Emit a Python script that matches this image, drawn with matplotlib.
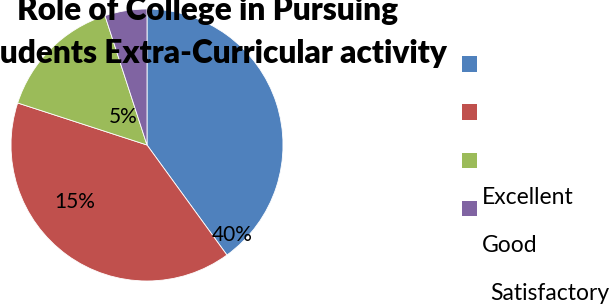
import matplotlib
matplotlib.use('Agg')
import matplotlib.pyplot as plt
from matplotlib.patches import Rectangle

# ── Datos ─────────────────────────────────────────────────────────────────────
values = [40, 40, 15, 5]
colors = ['#4F81BD', '#C0504D', '#9BBB59', '#8064A2']
pct_labels = ['40%', '15%', '5%']
legend_labels = ['Excellent', 'Good', 'Satisfactory']
title = 'Role of College in Pursuing\nStudents Extra-Curricular activity'

plt.rcParams['font.family'] = ['Lato', 'DejaVu Sans']

W, H = 610, 305
fig = plt.figure(figsize=(W / 100, H / 100), dpi=100)
fig.patch.set_facecolor('white')

# pie axes: centre (147,145) px, radius 136 px
cx, cy, r = 147, 145, 136
ax = fig.add_axes([(cx - r) / W, (H - cy - r) / H, 2 * r / W, 2 * r / H])
ax.pie(values, colors=colors, startangle=90, counterclock=False,
       radius=1.0, wedgeprops=dict(edgecolor='white', linewidth=0.6))
ax.set_xlim(-1, 1)
ax.set_ylim(-1, 1)
ax.set_aspect('equal')
ax.axis('off')

# etiquetas de porcentaje (posiciones tal como aparecen en el original)
lab_pos = [(232, 235), (75, 202), (123, 117)]
for txt, (px, py) in zip(pct_labels, lab_pos):
    ax.text((px - cx) / r, (cy - py) / r, txt, ha='center', va='center',
            fontsize=15, color='black')

# título (recortado arriba y a la izquierda como en la referencia)
fig.text(208 / W, 1 - 63 / H, title, ha='center', va='baseline',
         fontsize=22.8, fontweight='heavy', linespacing=1.58,
         multialignment='center')

# leyenda: cuadros de color
for i, c in enumerate(colors):
    y = 64 + 48 * i
    fig.patches.append(Rectangle((462 / W, 1 - (y + 7.5) / H), 15 / W, 15 / H,
                                 transform=fig.transFigure, facecolor=c,
                                 edgecolor='none', figure=fig))

leg_pos = [(482, 198), (482, 245), (490, 293)]
for txt, (px, py) in zip(legend_labels, leg_pos):
    fig.text(px / W, 1 - py / H, txt, ha='left', va='center',
             fontsize=16.5, color='black')

fig.savefig('out.png', dpi=100)
